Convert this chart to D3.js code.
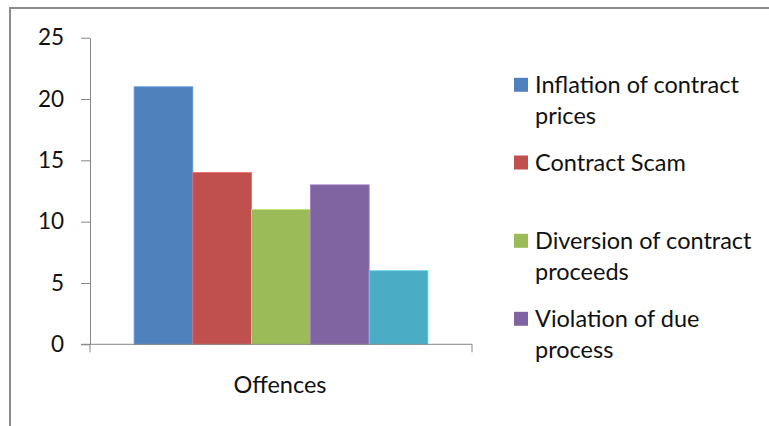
<!DOCTYPE html>
<html>
<head>
<meta charset="utf-8">
<script src="https://cdn.jsdelivr.net/npm/d3@7"></script>
<style>
  html, body { margin: 0; padding: 0; background: #fff; }
  svg { display: block; }
  text { font-family: Lato, "Open Sans", sans-serif; fill: #111; }
</style>
</head>
<body>
<svg id="chart" width="769" height="426"></svg>
<script>
// Offence counts, one bar per offence type, all under a single category
const categories = ["Offences"];
const seriesValues = [21, 14, 11, 13, 6];
const seriesColors = ["#4F81BD", "#C0504D", "#9BBB59", "#8064A2", "#4BACC6"];
const legendLabels = [
  ["Inflation of contract", "prices"],
  ["Contract Scam"],
  ["Diversion of contract", "proceeds"],
  ["Violation of due", "process"]
];
const yTicks = [0, 5, 10, 15, 20, 25];

const svg = d3.select("#chart");
const axisColor = "#868686";
const textSize = 23.5;

// chart frame (only top and left edges fall inside the view)
svg.append("rect")
  .attr("x", 10).attr("y", 8)
  .attr("width", 800).attr("height", 500)
  .attr("fill", "none")
  .attr("stroke", "#8c8c8c")
  .attr("stroke-width", 2);

const plot = { left: 90, right: 472, top: 37.7, bottom: 344.3 };

const y = d3.scaleLinear().domain([0, 25]).range([plot.bottom, plot.top]);

const x0 = d3.scaleBand()
  .domain(categories)
  .range([plot.left, plot.right])
  .paddingInner(0)
  .paddingOuter(0.15);

const x1 = d3.scaleBand()
  .domain(d3.range(seriesValues.length))
  .range([0, x0.bandwidth()]);

// bars
const g = svg.append("g");
g.selectAll("rect.bar")
  .data(seriesValues)
  .join("rect")
  .attr("class", "bar")
  .attr("x", (d, i) => x0(categories[0]) + x1(i))
  .attr("y", d => y(d))
  .attr("width", x1.bandwidth())
  .attr("height", d => y(0) - y(d))
  .attr("fill", (d, i) => seriesColors[i])
  .attr("stroke", (d, i) => d3.color(seriesColors[i]).brighter(0.6))
  .attr("stroke-width", 0.8);

// y axis
const yAxis = d3.axisLeft(y)
  .tickValues(yTicks)
  .tickSize(9)
  .tickPadding(17)
  .tickSizeOuter(0);
const ya = svg.append("g")
  .attr("transform", `translate(${plot.left},0)`)
  .call(yAxis);
ya.select(".domain").attr("stroke", axisColor);
ya.selectAll(".tick line").attr("stroke", axisColor);
ya.selectAll(".tick text")
  .attr("font-size", 22.5)
  .attr("font-family", "Lato, sans-serif")
  .attr("fill", "#111");

// x axis: baseline with end ticks and category label
const xa = svg.append("g");
xa.append("line")
  .attr("x1", plot.left - 9).attr("x2", plot.right)
  .attr("y1", y(0)).attr("y2", y(0))
  .attr("stroke", axisColor);
[plot.left, plot.right].forEach(px => {
  xa.append("line")
    .attr("x1", px).attr("x2", px)
    .attr("y1", y(0)).attr("y2", y(0) + 8)
    .attr("stroke", axisColor);
});
xa.selectAll("text.cat")
  .data(categories)
  .join("text")
  .attr("class", "cat")
  .attr("x", d => x0(d) + x0.bandwidth() / 2 - 1)
  .attr("y", y(0) + 49)
  .attr("text-anchor", "middle")
  .attr("font-size", textSize)
  .text(d => d);

// legend
const legendTops = [93.3, 171, 249.3, 327.3];
const lg = svg.append("g");
legendLabels.forEach((lines, i) => {
  const base = legendTops[i];
  lg.append("rect")
    .attr("x", 514).attr("y", base - 15.5)
    .attr("width", 14).attr("height", 14)
    .attr("fill", seriesColors[i]);
  const t = lg.append("text")
    .attr("x", 535).attr("y", base)
    .attr("font-size", textSize);
  lines.forEach((ln, j) => {
    t.append("tspan")
      .attr("x", 535)
      .attr("dy", j === 0 ? 0 : 30.5)
      .text(ln);
  });
});
</script>
</body>
</html>
